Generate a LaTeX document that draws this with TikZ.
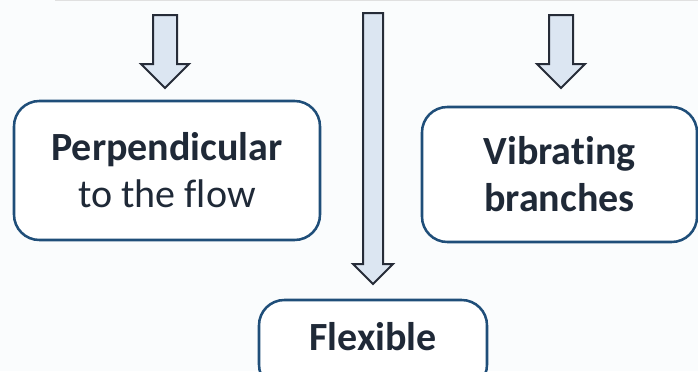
\documentclass[tikz,border=0pt]{standalone}
\usepackage{fontspec}
\setmainfont{Carlito}[Ligatures=NoCommon]
\usetikzlibrary{calc}
\definecolor{boxblue}{RGB}{31,78,121}
\definecolor{arrowfill}{RGB}{220,230,242}
\definecolor{arrowline}{RGB}{38,44,56}
\definecolor{inktext}{RGB}{31,41,55}
\definecolor{paper}{RGB}{250,252,253}

\tikzset{
	kindbox/.style={draw=boxblue, line width=1.9pt, rounded corners=19pt, fill=white, text=inktext, align=center, font=\fontsize{30}{35.25}\selectfont, inner sep=0pt},
	blockarrow/.style={draw=arrowline, fill=arrowfill, line width=1.5pt, line join=miter},
}

% block arrow pointing down: top, tip, size
\newcommand{\flowarrow}[3]{%
	\draw[blockarrow] ($(#1)+(-#3/2,0)$) -- ($(#1)+(#3/2,0)$) -- ($(#2)+(#3/2,-#3)$) -- ($(#2)+(#3,-#3)$) -- (#2) -- ($(#2)+(-#3,-#3)$) -- ($(#2)+(-#3/2,-#3)$) -- cycle;
}

\begin{document}
\begin{tikzpicture}[x=0.75pt, y=-0.75pt]

	\fill[paper] (0,0) rectangle (698,371);
	\useasboundingbox (0,0) rectangle (698,371);
	\draw[black!12, line width=1.2pt] (55,0.5) -- (698,0.5);

	\node[kindbox, minimum width=229.5pt, minimum height=104.25pt] (perp) at (167,170.5) {\textbf{Perpendicular}\\to the flow};
	\node[kindbox, minimum width=206.25pt, minimum height=101.25pt] (vibr) at (559.5,174.5) {\textbf{Vibrating}\\\textbf{branches}};
	\node[kindbox, minimum width=171pt, minimum height=67.5pt, text height=20pt, text depth=12.5pt] (flex) at (373,345) {\textbf{Flexible}};

	\coordinate (perptop) at (165,15);
	\coordinate (perptip) at (165,88);
	\coordinate (flextop) at (373,13);
	\coordinate (flextip) at (373,284);
	\coordinate (vibrtop) at (561,15);
	\coordinate (vibrtip) at (561,88);

	\flowarrow{perptop}{perptip}{24}
	\flowarrow{flextop}{flextip}{20}
	\flowarrow{vibrtop}{vibrtip}{24}

\end{tikzpicture}
\end{document}
